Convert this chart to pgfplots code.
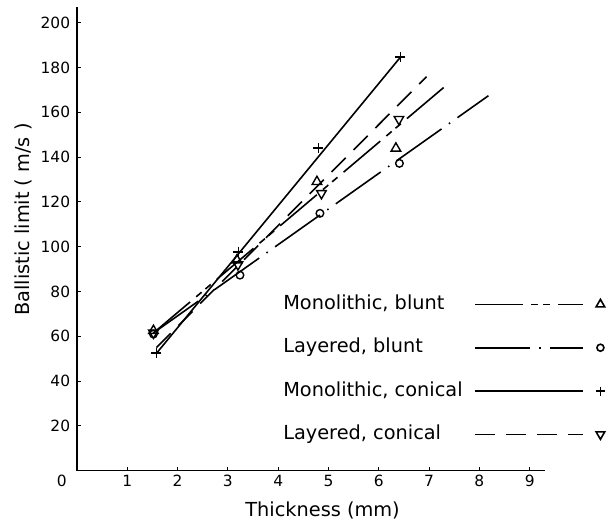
\documentclass[border=0pt]{standalone}
\usepackage{pgfplots}
\pgfplotsset{compat=1.18}
\usepackage{fontspec}
\setmainfont{DejaVu Sans}
\newcommand\tickfont{\fontsize{15.5}{18}\selectfont}
\newcommand\labfont{\fontsize{19.4}{23}\selectfont}

% line styles of the four series
\pgfplotsset{
  monoblunt/.style={line width=1.6bp, dash pattern=on 48bp off 8bp on 7bp off 5bp on 7bp off 8bp},
  layblunt/.style={line width=1.6bp, dash pattern=on 55bp off 9bp on 1.5bp off 9bp},
  monocon/.style={line width=1.6bp, solid},
  laycon/.style={line width=1.6bp, dash pattern=on 20bp off 11bp},
  legend image code/.code={
    \draw[#1, mark=none] (0bp,0bp) -- (108bp,0bp);
    \draw[#1, solid] plot coordinates {(125bp,0bp)};
  },
}

\begin{document}
\begin{tikzpicture}
\path[use as bounding box] (-77bp,-53.3bp) rectangle (531bp,470.7bp);
\begin{axis}[
    at={(0,0)}, anchor=south west,
    scale only axis, clip=false,
    width=467.8bp, height=463.7bp,
    xmin=0, xmax=9.3, ymin=0, ymax=207,
    axis x line=bottom, axis y line=left,
    axis line style={-, line width=1.2bp},
    xtick={1,...,9},
    ytick={20,40,...,200},
    tick align=inside,
    major tick length=4bp,
    tick style={line width=1.1bp, black},
    /pgf/number format/assume math mode=true,
    tick label style={font=\tickfont, inner sep=0pt},
    xticklabel style={anchor=north, yshift=-4.3bp},
    yticklabel style={anchor=east, xshift=-6.7bp},
    xlabel={Thickness (mm)},
    ylabel={Ballistic limit ( m/s )},
    label style={font=\labfont, inner sep=0pt},
    xlabel style={at={(axis description cs:0.525,-0.0977)}, anchor=base},
    ylabel style={at={(axis description cs:-0.102,0.5417)}, anchor=base},
    legend plot pos=right,
    legend cell align=left,
    legend style={draw=none, fill=none, inner sep=0pt, outer sep=0pt,
      at={(axis description cs:0.441,0.378)}, anchor=north west,
      font=\labfont, row sep=25.3bp, column sep=12bp,
      nodes={inner sep=0pt, text height=14bp, text depth=4bp}},
  ]
  % fitted lines
  \addplot[monoblunt, forget plot] coordinates {(1.52,61.5) (7.35,172.2)};
  \addplot[layblunt, forget plot] coordinates {(1.52,61.5) (8.18,167.4)};
  \addplot[monocon, forget plot] coordinates {(1.58,52.4) (6.43,184.6)};
  \addplot[laycon, forget plot] coordinates {(1.58,55) (6.95,175.9)};
  % measured points
  \addplot[only marks, mark=triangle, mark size=5.5bp, line width=1.4bp, forget plot]
    coordinates {(1.52,62.5) (3.18,94) (4.77,129) (6.34,143.9)};
  \addplot[only marks, mark=o, mark size=3.8bp, line width=1.4bp, forget plot]
    coordinates {(1.52,61) (3.24,87.3) (4.83,114.9) (6.41,137.2)};
  \addplot[only marks, mark=+, mark size=5bp, line width=1.8bp, forget plot]
    coordinates {(1.58,52.4) (3.21,97.8) (4.80,143.9) (6.43,184.6)};
  \addplot[only marks, mark=triangle, mark size=5.5bp, line width=1.4bp,
    mark options={rotate=180}, forget plot]
    coordinates {(1.52,61.5) (3.2,92) (4.86,123.8) (6.40,156.9)};
  % legend
  \addlegendimage{monoblunt, mark=triangle, mark size=5bp, mark options={solid}}
  \addlegendentry{Monolithic, blunt}
  \addlegendimage{layblunt, mark=o, mark size=3.5bp, mark options={solid}}
  \addlegendentry{Layered, blunt}
  \addlegendimage{monocon, mark=+, mark size=4.5bp, mark options={solid}}
  \addlegendentry{Monolithic, conical}
  \addlegendimage{laycon, mark=triangle, mark size=5bp, mark options={solid, rotate=180}}
  \addlegendentry{Layered, conical}
  \node[anchor=north, inner sep=0pt, font=\tickfont, xshift=-15.3bp, yshift=-4.3bp]
    at (axis cs:0,0) {0};
\end{axis}
\end{tikzpicture}
\end{document}
